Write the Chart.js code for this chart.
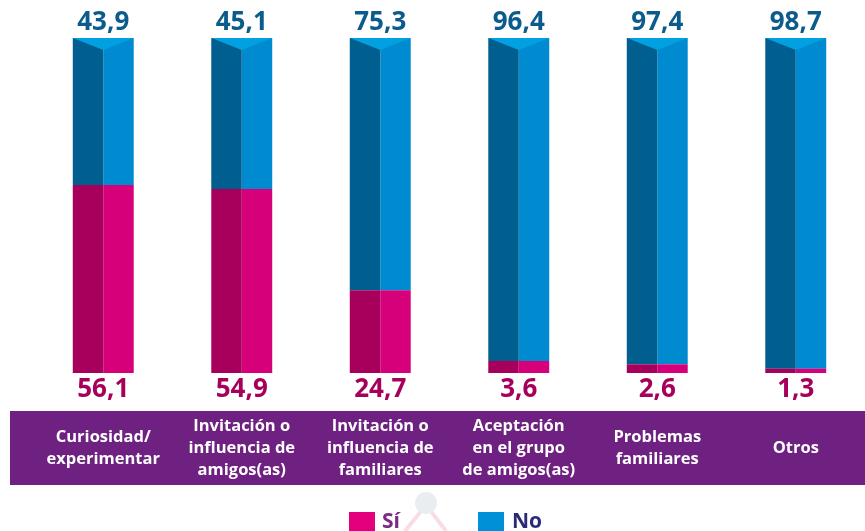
<!DOCTYPE html>
<html>
<head>
<meta charset="utf-8">
<script src="https://cdn.jsdelivr.net/npm/chart.js@4"></script>
<style>
  html, body { margin: 0; padding: 0; background: #ffffff; }
  #wrap { width: 865px; height: 531px; position: relative; }
</style>
</head>
<body>
<div id="wrap"><canvas id="razonesChart" width="865" height="531"></canvas></div>
<script>
// Data
const categories = [
  ["Curiosidad/", "experimentar"],
  ["Invitación o", "influencia de", "amigos(as)"],
  ["Invitación o", "influencia de", "familiares"],
  ["Aceptación", "en el grupo", "de amigos(as)"],
  ["Problemas", "familiares"],
  ["Otros"]
];
const siValues = [56.1, 54.9, 24.7, 3.6, 2.6, 1.3];
const noValues = [43.9, 45.1, 75.3, 96.4, 97.4, 98.7];
const legendLabels = ["Sí", "No"];

const pinkDark = "#a6005c";
const pinkLight = "#d6007b";
const blueDark = "#005f8e";
const blueLight = "#008bd1";
const blueTop = "#00a0e1";

function fmt(v) {
  return v.toFixed(1).replace(".", ",");
}

// Draws the prism tops, value labels, purple band and legend
const decoPlugin = {
  id: "deco",
  beforeDraw(chart) {
    const ctx = chart.ctx;
    ctx.save();
    // purple band
    ctx.fillStyle = "#6e2180";
    ctx.fillRect(10, 411, 855, 74);
    // faint decoration behind legend
    ctx.strokeStyle = "#f8dce9";
    ctx.lineWidth = 4;
    ctx.beginPath();
    ctx.moveTo(426, 505);
    ctx.lineTo(405, 531);
    ctx.moveTo(426, 505);
    ctx.lineTo(446, 531);
    ctx.stroke();
    ctx.fillStyle = "#e9edf0";
    ctx.beginPath();
    ctx.arc(426, 503, 11, 0, Math.PI * 2);
    ctx.fill();
    ctx.restore();
  },
  afterDatasetsDraw(chart) {
    const ctx = chart.ctx;
    const xScale = chart.scales.x;
    const noL = chart.getDatasetMeta(2).data;
    const noR = chart.getDatasetMeta(3).data;
    const siL = chart.getDatasetMeta(0).data;
    ctx.save();
    for (let i = 0; i < categories.length; i++) {
      const left = noL[i].x - noL[i].width / 2;
      const right = noR[i].x + noR[i].width / 2;
      const mid = noL[i].x + noL[i].width / 2;
      const top = noL[i].y;
      // top face
      ctx.fillStyle = blueTop;
      ctx.beginPath();
      ctx.moveTo(left, top);
      ctx.lineTo(right, top);
      ctx.lineTo(mid, top + 12);
      ctx.closePath();
      ctx.fill();

      // values
      ctx.font = "bold 26px 'Noto Sans'";
      ctx.textAlign = "center";
      ctx.textBaseline = "middle";
      ctx.fillStyle = "#0b5c8c";
      ctx.fillText(fmt(noValues[i]), mid, top - 15);
      ctx.fillStyle = "#a6005c";
      ctx.fillText(fmt(siValues[i]), mid, siL[i].base + 17);

      // category labels in band
      const cx = xScale.getPixelForValue(i);
      const lines = categories[i];
      const lh = 22;
      const y0 = 448 - (lines.length - 1) * lh / 2;
      ctx.font = "bold 16.5px 'Open Sans'";
      ctx.fillStyle = "#ffffff";
      lines.forEach((t, k) => ctx.fillText(t, cx, y0 + k * lh));
    }

    // legend
    ctx.textAlign = "left";
    ctx.textBaseline = "middle";
    ctx.font = "bold 21px 'Open Sans'";
    ctx.fillStyle = "#e3007d";
    ctx.fillRect(349, 512, 26, 19);
    ctx.fillStyle = "#7b2a86";
    ctx.fillText(legendLabels[0], 382, 522);
    ctx.fillStyle = "#0090d8";
    ctx.fillRect(478, 512, 26, 19);
    ctx.fillStyle = "#2b2a78";
    ctx.fillText(legendLabels[1], 512, 522);
    ctx.restore();
  }
};

const ctx = document.getElementById("razonesChart").getContext("2d");
const chart = new Chart(ctx, {
  type: "bar",
  data: {
    labels: categories,
    datasets: [
      { label: "Sí", data: siValues, backgroundColor: pinkDark, stack: "L" },
      { label: "Sí", data: siValues, backgroundColor: pinkLight, stack: "R" },
      { label: "No", data: noValues, backgroundColor: blueDark, stack: "L" },
      { label: "No", data: noValues, backgroundColor: blueLight, stack: "R" }
    ]
  },
  options: {
    responsive: false,
    animation: false,
    datasets: {
      bar: { categoryPercentage: 0.44, barPercentage: 1, borderWidth: 0 }
    },
    layout: { padding: { top: 38, bottom: 158, left: 34, right: 0 } },
    scales: {
      x: { stacked: true, display: false },
      y: { stacked: true, display: false, min: 0, max: 100 }
    },
    plugins: {
      legend: { display: false },
      tooltip: { enabled: false }
    }
  },
  plugins: [decoPlugin]
});
</script>
</body>
</html>
